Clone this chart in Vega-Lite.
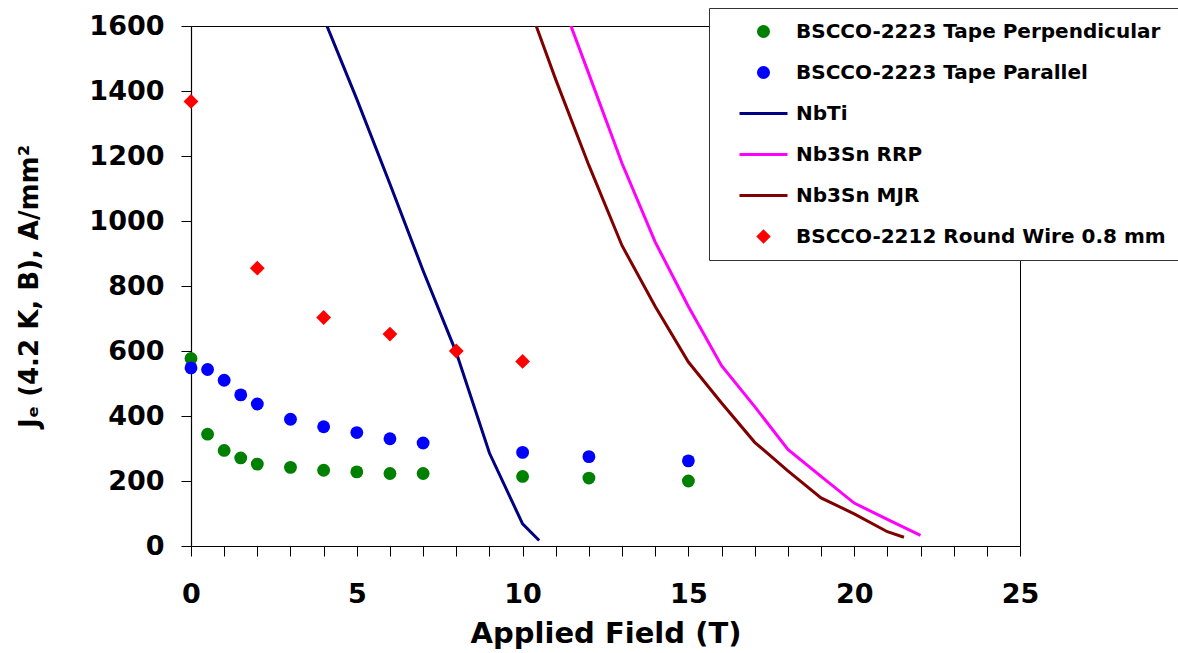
{
  "$schema": "https://vega.github.io/schema/vega-lite/v6.json",
  "width": 829,
  "height": 520,
  "autosize": {"type": "none"},
  "padding": {"left": 191, "top": 26, "right": 158, "bottom": 107},
  "background": "white",
  "config": {
    "view": {"stroke": "#000", "strokeWidth": 1},
    "axis": {
      "domainColor": "#000", "domainWidth": 1.2, "tickColor": "#000", "tickWidth": 1,
      "labelFont": "DejaVu Sans", "labelFontWeight": "bold", "labelColor": "#000",
      "titleFont": "DejaVu Sans", "titleFontWeight": "bold", "titleColor": "#000",
      "grid": false
    }
  },
  "data": {
    "values": [
      {"series": "BSCCO-2223 Tape Perpendicular", "B": 0, "J": 577},
      {"series": "BSCCO-2223 Tape Perpendicular", "B": 0.5, "J": 344},
      {"series": "BSCCO-2223 Tape Perpendicular", "B": 1, "J": 294},
      {"series": "BSCCO-2223 Tape Perpendicular", "B": 1.5, "J": 271},
      {"series": "BSCCO-2223 Tape Perpendicular", "B": 2, "J": 252},
      {"series": "BSCCO-2223 Tape Perpendicular", "B": 3, "J": 242},
      {"series": "BSCCO-2223 Tape Perpendicular", "B": 4, "J": 233},
      {"series": "BSCCO-2223 Tape Perpendicular", "B": 5, "J": 228},
      {"series": "BSCCO-2223 Tape Perpendicular", "B": 6, "J": 223},
      {"series": "BSCCO-2223 Tape Perpendicular", "B": 7, "J": 223},
      {"series": "BSCCO-2223 Tape Perpendicular", "B": 10, "J": 214},
      {"series": "BSCCO-2223 Tape Perpendicular", "B": 12, "J": 209},
      {"series": "BSCCO-2223 Tape Perpendicular", "B": 15, "J": 200},
      {"series": "BSCCO-2223 Tape Parallel", "B": 0, "J": 548},
      {"series": "BSCCO-2223 Tape Parallel", "B": 0.5, "J": 543},
      {"series": "BSCCO-2223 Tape Parallel", "B": 1, "J": 510},
      {"series": "BSCCO-2223 Tape Parallel", "B": 1.5, "J": 465},
      {"series": "BSCCO-2223 Tape Parallel", "B": 2, "J": 437},
      {"series": "BSCCO-2223 Tape Parallel", "B": 3, "J": 390},
      {"series": "BSCCO-2223 Tape Parallel", "B": 4, "J": 367},
      {"series": "BSCCO-2223 Tape Parallel", "B": 5, "J": 349},
      {"series": "BSCCO-2223 Tape Parallel", "B": 6, "J": 330},
      {"series": "BSCCO-2223 Tape Parallel", "B": 7, "J": 317},
      {"series": "BSCCO-2223 Tape Parallel", "B": 10, "J": 288},
      {"series": "BSCCO-2223 Tape Parallel", "B": 12, "J": 275},
      {"series": "BSCCO-2223 Tape Parallel", "B": 15, "J": 262},
      {"series": "BSCCO-2212 Round Wire 0.8 mm", "B": 0, "J": 1368},
      {"series": "BSCCO-2212 Round Wire 0.8 mm", "B": 2, "J": 855},
      {"series": "BSCCO-2212 Round Wire 0.8 mm", "B": 4, "J": 703},
      {"series": "BSCCO-2212 Round Wire 0.8 mm", "B": 6, "J": 652},
      {"series": "BSCCO-2212 Round Wire 0.8 mm", "B": 8, "J": 600},
      {"series": "BSCCO-2212 Round Wire 0.8 mm", "B": 10, "J": 568},
      {"series": "NbTi", "B": 4, "J": 1625},
      {"series": "NbTi", "B": 5, "J": 1375},
      {"series": "NbTi", "B": 6, "J": 1114},
      {"series": "NbTi", "B": 7, "J": 847},
      {"series": "NbTi", "B": 8, "J": 595},
      {"series": "NbTi", "B": 9, "J": 286},
      {"series": "NbTi", "B": 10, "J": 68},
      {"series": "NbTi", "B": 10.5, "J": 17},
      {"series": "Nb3Sn RRP", "B": 11, "J": 1725},
      {"series": "Nb3Sn RRP", "B": 12, "J": 1452},
      {"series": "Nb3Sn RRP", "B": 13, "J": 1177},
      {"series": "Nb3Sn RRP", "B": 14, "J": 935},
      {"series": "Nb3Sn RRP", "B": 15, "J": 737},
      {"series": "Nb3Sn RRP", "B": 16, "J": 555},
      {"series": "Nb3Sn RRP", "B": 17, "J": 429},
      {"series": "Nb3Sn RRP", "B": 18, "J": 297},
      {"series": "Nb3Sn RRP", "B": 19, "J": 214},
      {"series": "Nb3Sn RRP", "B": 20, "J": 132},
      {"series": "Nb3Sn RRP", "B": 21, "J": 82},
      {"series": "Nb3Sn RRP", "B": 22, "J": 33},
      {"series": "Nb3Sn MJR", "B": 10, "J": 1715},
      {"series": "Nb3Sn MJR", "B": 11, "J": 1435},
      {"series": "Nb3Sn MJR", "B": 12, "J": 1171},
      {"series": "Nb3Sn MJR", "B": 13, "J": 924},
      {"series": "Nb3Sn MJR", "B": 14, "J": 737},
      {"series": "Nb3Sn MJR", "B": 15, "J": 566},
      {"series": "Nb3Sn MJR", "B": 16, "J": 440},
      {"series": "Nb3Sn MJR", "B": 17, "J": 319},
      {"series": "Nb3Sn MJR", "B": 18, "J": 231},
      {"series": "Nb3Sn MJR", "B": 19, "J": 148},
      {"series": "Nb3Sn MJR", "B": 20, "J": 99},
      {"series": "Nb3Sn MJR", "B": 21, "J": 44},
      {"series": "Nb3Sn MJR", "B": 21.5, "J": 27}
    ]
  },
  "encoding": {
    "x": {
      "field": "B", "type": "quantitative",
      "scale": {"domain": [0, 25], "nice": false, "zero": false},
      "axis": {
        "title": "Applied Field (T)", "titleFontSize": 29, "titlePadding": 12,
        "values": [0,1,2,3,4,5,6,7,8,9,10,11,12,13,14,15,16,17,18,19,20,21,22,23,24,25],
        "labelExpr": "datum.value % 5 === 0 ? datum.label : ''",
        "labelFontSize": 27, "labelPadding": 25, "tickSize": 10,
        "labelFlush": false, "labelOverlap": false
      }
    },
    "y": {
      "field": "J", "type": "quantitative",
      "scale": {"domain": [0, 1600], "nice": false},
      "axis": {
        "title": "Jₑ (4.2 K, B), A/mm²", "titleFontSize": 26, "titlePadding": 46,
        "values": [0,200,400,600,800,1000,1200,1400,1600], "format": "d",
        "labelFontSize": 27, "labelPadding": 17, "tickSize": 10,
        "labelFlush": false, "labelOverlap": false
      }
    },
    "color": {
      "field": "series", "type": "nominal",
      "scale": {
        "domain": ["BSCCO-2223 Tape Perpendicular", "BSCCO-2223 Tape Parallel", "NbTi", "Nb3Sn RRP", "Nb3Sn MJR", "BSCCO-2212 Round Wire 0.8 mm"],
        "range": ["#008000", "#0000FF", "#000080", "#FF00FF", "#800000", "#FF0000"]
      },
      "legend": {
        "orient": "none", "legendX": 518, "legendY": -18, "direction": "vertical", "columns": 1,
        "title": null, "padding": 13.5, "strokeColor": "#333", "fillColor": "#fff",
        "symbolSize": 1560, "symbolStrokeWidth": 1.5, "symbolOffset": 31, "labelOffset": 22.5,
        "labelFont": "DejaVu Sans", "labelFontWeight": "bold", "labelFontSize": 20, "labelColor": "#000",
        "labelLimit": 0, "rowPadding": 21,
        "encode": {
          "symbols": {
            "update": {
              "size": {"signal": "indexof(['NbTi','Nb3Sn RRP','Nb3Sn MJR'], datum.value) >= 0 ? 2304 : (datum.value === 'BSCCO-2212 Round Wire 0.8 mm' ? 210 : 170)"},
              "shape": {"signal": "indexof(['NbTi','Nb3Sn RRP','Nb3Sn MJR'], datum.value) >= 0 ? 'stroke' : (datum.value === 'BSCCO-2212 Round Wire 0.8 mm' ? 'diamond' : 'circle')"},
              "stroke": {"scale": "color", "field": "value"},
              "fill": {"scale": "color", "field": "value"},
              "strokeWidth": {"signal": "indexof(['NbTi','Nb3Sn RRP','Nb3Sn MJR'], datum.value) >= 0 ? 3 : 0"},
              "opacity": {"value": 1}
            }
          }
        }
      }
    }
  },
  "layer": [
    {
      "transform": [{"filter": "indexof(['NbTi','Nb3Sn RRP','Nb3Sn MJR'], datum.series) >= 0"}],
      "mark": {"type": "line", "strokeWidth": 3, "clip": true}
    },
    {
      "transform": [{"filter": "indexof(['BSCCO-2223 Tape Perpendicular','BSCCO-2223 Tape Parallel'], datum.series) >= 0"}],
      "mark": {"type": "point", "shape": "circle", "filled": true, "size": 165, "opacity": 1}
    },
    {
      "transform": [{"filter": "datum.series === 'BSCCO-2212 Round Wire 0.8 mm'"}],
      "mark": {"type": "point", "shape": "diamond", "filled": true, "size": 220, "opacity": 1}
    }
  ]
}
